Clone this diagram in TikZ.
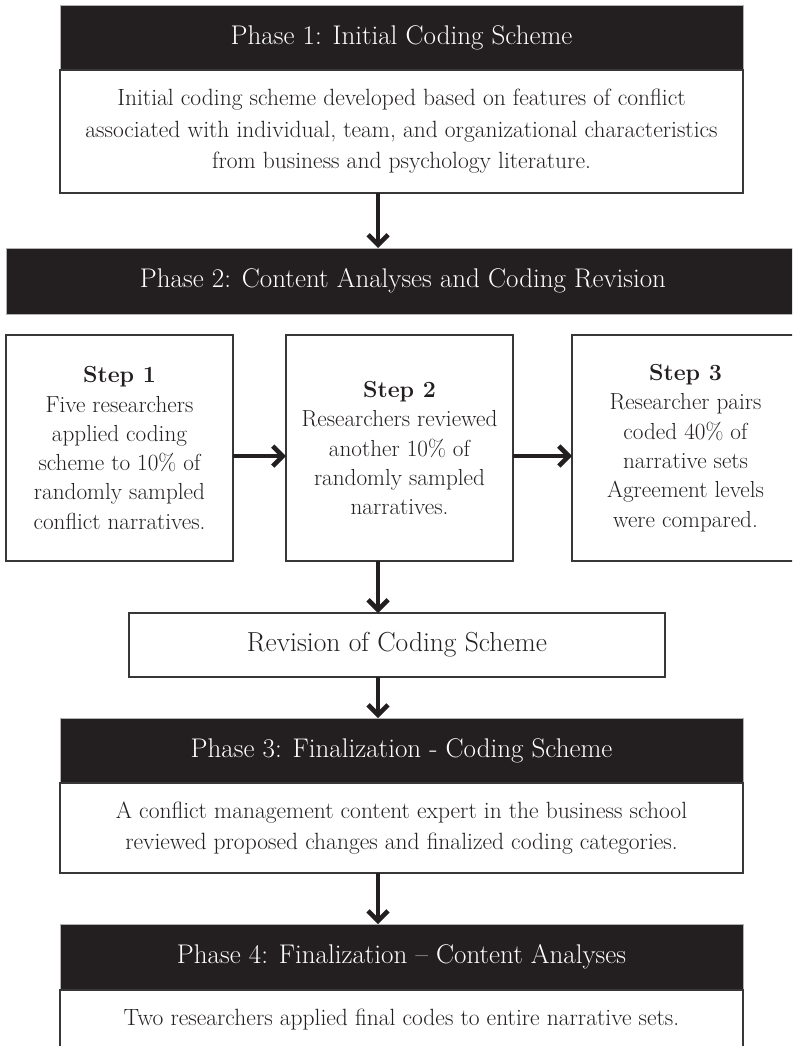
\documentclass[tikz,border=0pt]{standalone}
\usetikzlibrary{positioning,arrows.meta}

\definecolor{headblack}{RGB}{35,31,32}
\definecolor{inkblack}{RGB}{35,31,32}
\definecolor{boxgray}{RGB}{55,55,55}

\newcommand{\phasefont}{\fontsize{27}{32}\selectfont}
\newcommand{\bodyfont}{\fontsize{23.5}{31.5}\selectfont}
\newcommand{\stepfont}{\fontsize{23.2}{29.3}\selectfont}
\newcommand{\revfont}{\fontsize{27.5}{32}\selectfont}

\tikzstyle{phase} = [
rectangle,
minimum width=683pt,
minimum height=65pt,
inner sep=0pt,
outer sep=0pt,
text centered,
draw=gray!60,
line width=0.8pt,
fill=headblack,
text=white,
font=\phasefont
]
\tikzstyle{phasetext} = [
rectangle,
minimum width=683pt,
inner sep=0pt,
outer sep=0pt,
align=center,
draw=boxgray,
line width=1.3pt,
fill=white,
text=inkblack,
font=\bodyfont
]
\tikzstyle{stepbox} = [
rectangle,
minimum width=227pt,
minimum height=226pt,
inner sep=0pt,
outer sep=0pt,
align=center,
draw=boxgray,
line width=1.3pt,
text=inkblack,
font=\stepfont
]
\tikzstyle{revision} = [
rectangle,
minimum width=536pt,
minimum height=64pt,
inner sep=0pt,
outer sep=0pt,
text centered,
draw=boxgray,
line width=1.3pt,
text=inkblack,
font=\revfont
]
\tikzstyle{arrow} = [
line width=4.6pt,
draw=headblack,
-{Straight Barb[length=10pt,width=20pt]}
]

\begin{document}
\begin{tikzpicture}[
x=1pt,
y=-1pt,
node distance=0pt
]

\useasboundingbox (0,0) rectangle (792,1046);
\clip (0,0) rectangle (792,1046);

% Nodes
\coordinate (arrowx) at (378,0);

\node (phaseone) [phase] at (401.5,37.5)
{Phase 1: Initial Coding Scheme};

\node (phaseonetext) [phasetext, minimum height=123pt, below=of phaseone]
{Initial coding scheme developed based on features of conflict\\
associated with individual, team, and organizational characteristics\\
from business and psychology literature.};

\node (phasetwo) [phase, minimum width=794pt, minimum height=66pt] at (403,281)
{Phase 2: Content Analyses and Coding Revision};

\node (stepone) [stepbox] at (119.5,448)
{\textbf{Step 1}\\
Five researchers\\
applied coding\\
scheme to 10\% of\\
randomly sampled\\
conflict narratives.};

\node (steptwo) [stepbox, right=53pt of stepone]
{\textbf{Step 2}\\
Researchers reviewed\\
another 10\% of\\
randomly sampled\\
narratives.};

\node (stepthree) [stepbox, right=59pt of steptwo]
{\textbf{Step 3}\\
Researcher pairs\\
coded 40\% of\\
narrative sets\\
Agreement levels\\
were compared.};

\node (revise) [revision] at (397,645)
{Revision of Coding Scheme};

\node (phasethree) [phase] at (401.5,750.5)
{Phase 3: Finalization - Coding Scheme};

\node (phasethreetext) [phasetext, minimum height=90pt, below=of phasethree]
{A conflict management content expert in the business school\\
reviewed proposed changes and finalized coding categories.};

\node (phasefour) [phase, minimum height=66pt] at (401.5,957)
{Phase 4: Finalization -- Content Analyses};

\node (phasefourtext) [phasetext, minimum height=60pt, below=of phasefour]
{Two researchers applied final codes to entire narrative sets.};

% Arrows
\draw [arrow] (phaseonetext.south -| arrowx) -- (phasetwo.north -| arrowx);
\draw [arrow] ([yshift=-8pt]stepone.east) -- ([yshift=-8pt]steptwo.west);
\draw [arrow] ([yshift=-8pt]steptwo.east) -- ([yshift=-8pt]stepthree.west);
\draw [arrow] (steptwo.south -| arrowx) -- (revise.north -| arrowx);
\draw [arrow] (revise.south -| arrowx) -- (phasethree.north -| arrowx);
\draw [arrow] (phasethreetext.south -| arrowx) -- (phasefour.north -| arrowx);

\end{tikzpicture}
\end{document}
